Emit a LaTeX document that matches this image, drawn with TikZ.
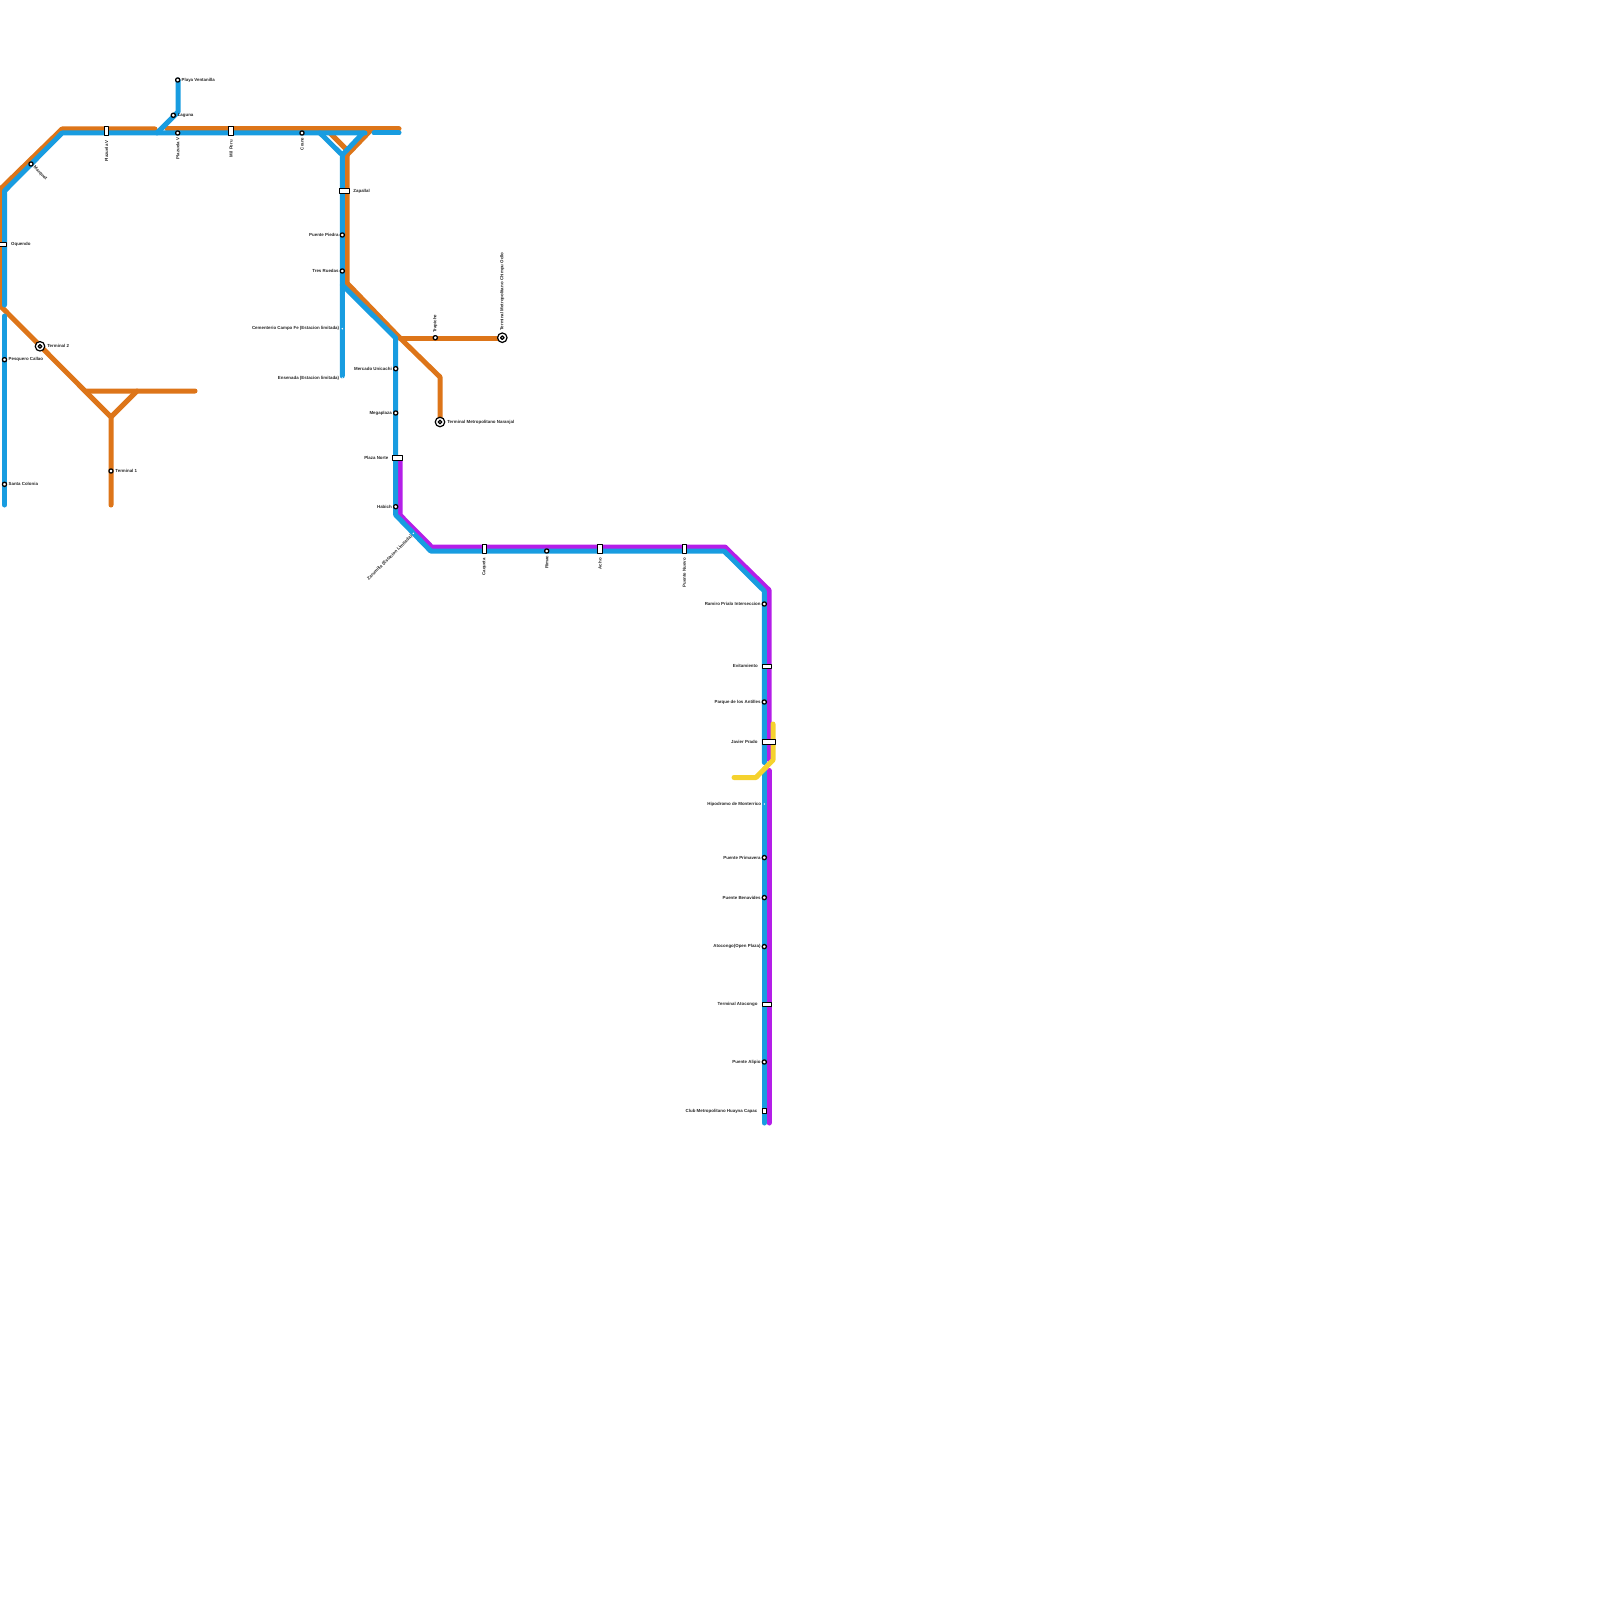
\documentclass[tikz,border=0pt]{standalone}
\usepackage{fontspec}
\setmainfont{Liberation Sans}
\usetikzlibrary{arrows.meta, positioning, calc}
\definecolor{lineorange}{HTML}{DD7519}
\definecolor{lineblue}{HTML}{189CE0}
\definecolor{linepurple}{HTML}{B41EE8}
\definecolor{lineyellow}{HTML}{F5D22E}

\begin{document}
\begin{tikzpicture}[x=1pt, y=-1pt, line cap=round, line join=round,
    orangeline/.style={draw=lineorange, line width=5pt},
    blueline/.style={draw=lineblue, line width=5pt},
    purpleline/.style={draw=linepurple, line width=5pt},
    yellowline/.style={draw=lineyellow, line width=5pt},
    halt/.style={circle, draw=black, fill=white, line width=1.3pt, minimum size=4.2pt, inner sep=0pt},
    tiny/.style={circle, fill=white, minimum size=1.6pt, inner sep=0pt},
    rectstop/.style={rectangle, draw=black, fill=white, line width=1pt, inner sep=0pt},
    hub/.style={circle, draw=black, fill=white, line width=1.2pt, minimum size=9.5pt, inner sep=0pt},
    hubdot/.style={circle, draw=black, fill=white, line width=1.3pt, minimum size=3.6pt, inner sep=0pt},
    lbl/.style={font=\bfseries\fontsize{4.4}{5}\selectfont, inner sep=0pt, text=black!85}]
    \useasboundingbox (0,0) rectangle (1600,1600);

    % Diem nut cua cac tuyen
    \coordinate (oquendoTop) at (1.5,188);
    \coordinate (topLeftO) at (62,129);
    \coordinate (topRightO) at (399,129);
    \coordinate (forkO) at (326,129);
    \coordinate (zapO) at (347,150);
    \coordinate (zapIn) at (347,155);
    \coordinate (forkOR) at (371,130);
    \coordinate (ruedasO) at (347,283);
    \coordinate (trapO) at (400,338);
    \coordinate (naranjalBend) at (440,377);
    \coordinate (airportO) at (1.5,307);
    \coordinate (triL) at (85,391);
    \coordinate (triR) at (137,391);
    \coordinate (triEnd) at (195,391);
    \coordinate (triB) at (111,417);
    \coordinate (triEndB) at (111,505);
    \coordinate (topLeftB) at (62,133);
    \coordinate (oquendoB) at (4.5,191);
    \coordinate (forkB) at (320,133);
    \coordinate (zapB) at (342.3,155);
    \coordinate (forkBR) at (363,133);
    \coordinate (splitB) at (342.3,285);
    \coordinate (trapB) at (395.7,338);
    \coordinate (habichB) at (395.7,515);
    \coordinate (caquetaB) at (430.7,551);
    \coordinate (nuevoB) at (724,551);
    \coordinate (prialoB) at (764.3,591);
    \coordinate (habichP) at (400,515);
    \coordinate (caquetaP) at (431.7,547);
    \coordinate (nuevoP) at (725,547);
    \coordinate (prialoP) at (769,590);
    \coordinate (branchB) at (178,112);

    % Tuyen cam
    \draw[orangeline] (airportO) -- (oquendoTop) -- (topLeftO) -- (155,129);
    \draw[orangeline] (167,129) -- (topRightO);
    \draw[orangeline] (forkO) -- (zapO) -- (ruedasO) -- (trapO) -- (naranjalBend) -- (440,422);
    \draw[orangeline] (zapIn) -- (forkOR);
    \draw[orangeline] (trapO) -- (502,338);
    \draw[orangeline] (airportO) -- (triL) -- (triEnd);
    \draw[orangeline] (triL) -- (triB) -- (triEndB);
    \draw[orangeline] (triB) -- (triR);

    % Tuyen tim
    \draw[purpleline] (400,458) -- (habichP) -- (caquetaP) -- (nuevoP) -- (prialoP) -- (769,759.5);
    \draw[purpleline] (769,770.5) -- (769,1123);

    % Tuyen xanh
    \draw[blueline] (4.5,305) -- (oquendoB) -- (topLeftB) -- (365,133);
    \draw[blueline] (374,133) -- (399,133);
    \draw[blueline] (4.5,316) -- (4.5,505);
    \draw[blueline] (157,133) -- (branchB) -- (178,80);
    \draw[blueline] (forkB) -- (zapB) -- (342.3,376);
    \draw[blueline] (forkBR) -- (zapB);
    \draw[blueline] (splitB) -- (trapB) -- (habichB) -- (caquetaB) -- (nuevoB) -- (prialoB) -- (764.3,762.5);
    \draw[blueline] (764.3,770) -- (764.3,1123);

    % Tuyen vang
    \draw[yellowline] (773,724) -- (773,760) -- (756,777.5) -- (734,777.5);

    % Ga tron, nhan ben phai
    \foreach \i/\x/\y/\gap/\lbl in {pv/177.7/80/1/Playa Ventanilla, lg/173.3/115.3/1.5/Laguna, pc/4.5/359.7/1.2/Pesquero Callao,
        sc/4.5/484.3/1.2/Santa Colonia, tu/111/471/1.5/Terminal 1} {
        \node[halt] (\i) at (\x,\y) {};
        \node[lbl, right=\gap pt of \i] (\i l) {\lbl};
    }

    % Ga tron, nhan ben trai
    \foreach \i/\y/\lbl in {pp/235/Puente Piedra, tr/271/Tres Ruedas} {
        \node[halt] (\i) at (342.3,\y) {};
        \node[lbl, left=0.8pt of \i] (\i l) {\lbl};
    }
    \foreach \i/\y/\lbl in {mu/368.7/Mercado Unicachi, mg/413/Megaplaza, hb/506.7/Habich} {
        \node[halt] (\i) at (395.7,\y) {};
        \node[lbl, left=1pt of \i] (\i l) {\lbl};
    }
    \foreach \i/\y/\lbl in {rp/604/Ramiro Prialo Interseccion, pa/702/Parque de los Antilles, pm/857.6/Puente Primavera,
        pb/897.6/Puente Benavides, ao/946.6/Atocongo(Open Plaza), al/1062/Puente Alipio} {
        \node[halt] (\i) at (764.3,\y) {};
        \node[lbl, left=0.8pt of \i] (\i l) {\lbl};
    }

    % Ga tam dung
    \node[tiny] (cf) at (342.3,328.7) {};
    \node[lbl, left=2pt of cf] (cfl) {Cementerio Campo Fe (Estacion limitada)};
    \node[tiny] (en) at (342.3,378) {};
    \node[lbl, left=2pt of en] (enl) {Ensenada (Estacion limitada)};
    \node[tiny] (hm) at (764.3,804) {};
    \node[lbl, left=2pt of hm] (hml) {Hipodromo de Monterrico};
    \node[tiny] (zr) at (413.3,533.3) {};
    \node[lbl, rotate=45, anchor=east] (zrl) at (411.7,536) {Zarumilla (Estacion Limitada)};

    % Ga chu nhat doc, nhan xoay
    \foreach \i/\x/\y/\lbl in {pz/106.5/131/Plazuela V, mp/231/131/Mil Peru, cq/484.3/549/Caqueta, ac/600/549/Acho, pn/684.3/549/Puente Nuevo} {
        \node[rectstop, minimum width=4.6pt, minimum height=9pt] (\i) at (\x,\y) {};
        \node[lbl, rotate=90, anchor=east] (\i l) at ($(\i.center)+(0,9)$) {\lbl};
    }
    % Ga tron, nhan xoay
    \foreach \i/\x/\y/\lbl in {pq/177.7/133/Plazuela V, cr/302/133/Crane, ri/546.7/551/Rimac} {
        \node[halt] (\i) at (\x,\y) {};
        \node[lbl, rotate=90, anchor=east] (\i l) at ($(\i.center)+(0,4.5)$) {\lbl};
    }
    \node[halt] (mq) at (31,164) {};
    \node[lbl, rotate=-45, anchor=west] (mql) at (34,167) {Marquez};
    \node[halt] (tp) at (435.3,337.7) {};
    \node[lbl, rotate=90, anchor=west] (tpl) at (435.3,333) {Trapiche};

    % Ga chu nhat ngang
    \node[rectstop, minimum width=12pt, minimum height=4.6pt] (oq) at (0.5,244.3) {};
    \node[lbl, right=4pt of oq] (oql) {Oquendo};
    \node[rectstop, minimum width=9.5pt, minimum height=4.6pt] (za) at (344.5,191) {};
    \node[lbl, right=3.5pt of za] (zal) {Zapallal};
    \node[rectstop, minimum width=9.5pt, minimum height=4.6pt] (ps) at (397.7,457.7) {};
    \node[lbl, left=4pt of ps] (psl) {Plaza Norte};
    \node[rectstop, minimum width=9pt, minimum height=4.6pt] (ev) at (767,666.3) {};
    \node[lbl, left=4pt of ev] (evl) {Evitamiento};
    \node[rectstop, minimum width=13.5pt, minimum height=4.6pt] (jp) at (769,742) {};
    \node[lbl, left=4pt of jp] (jpl) {Javier Prado};
    \node[rectstop, minimum width=9pt, minimum height=4.6pt] (ta) at (766.7,1004.3) {};
    \node[lbl, left=4pt of ta] (tal) {Terminal Atocongo};
    \node[rectstop, minimum width=4.6pt, minimum height=4.6pt] (ch) at (764.3,1111) {};
    \node[lbl, left=4pt of ch] (chl) {Club Metropolitano Huayna Capac};

    % Ga dau cuoi
    \foreach \i/\x/\y in {tb/40/346.3, na/440/422, co/502.3/337.7} {
        \node[hub] (\i) at (\x,\y) {};
        \node[hubdot] (\i d) at (\i) {};
    }
    \node[lbl, right=1.8pt of tb] (tbl) {Terminal 2};
    \node[lbl, right=1.8pt of na] (nal) {Terminal Metropolitano Naranjal};
    \node[lbl, rotate=90, anchor=west] (col) at (502.3,330.7) {Terminal Metropolitano Chimpu Ocllo};
\end{tikzpicture}
\end{document}
